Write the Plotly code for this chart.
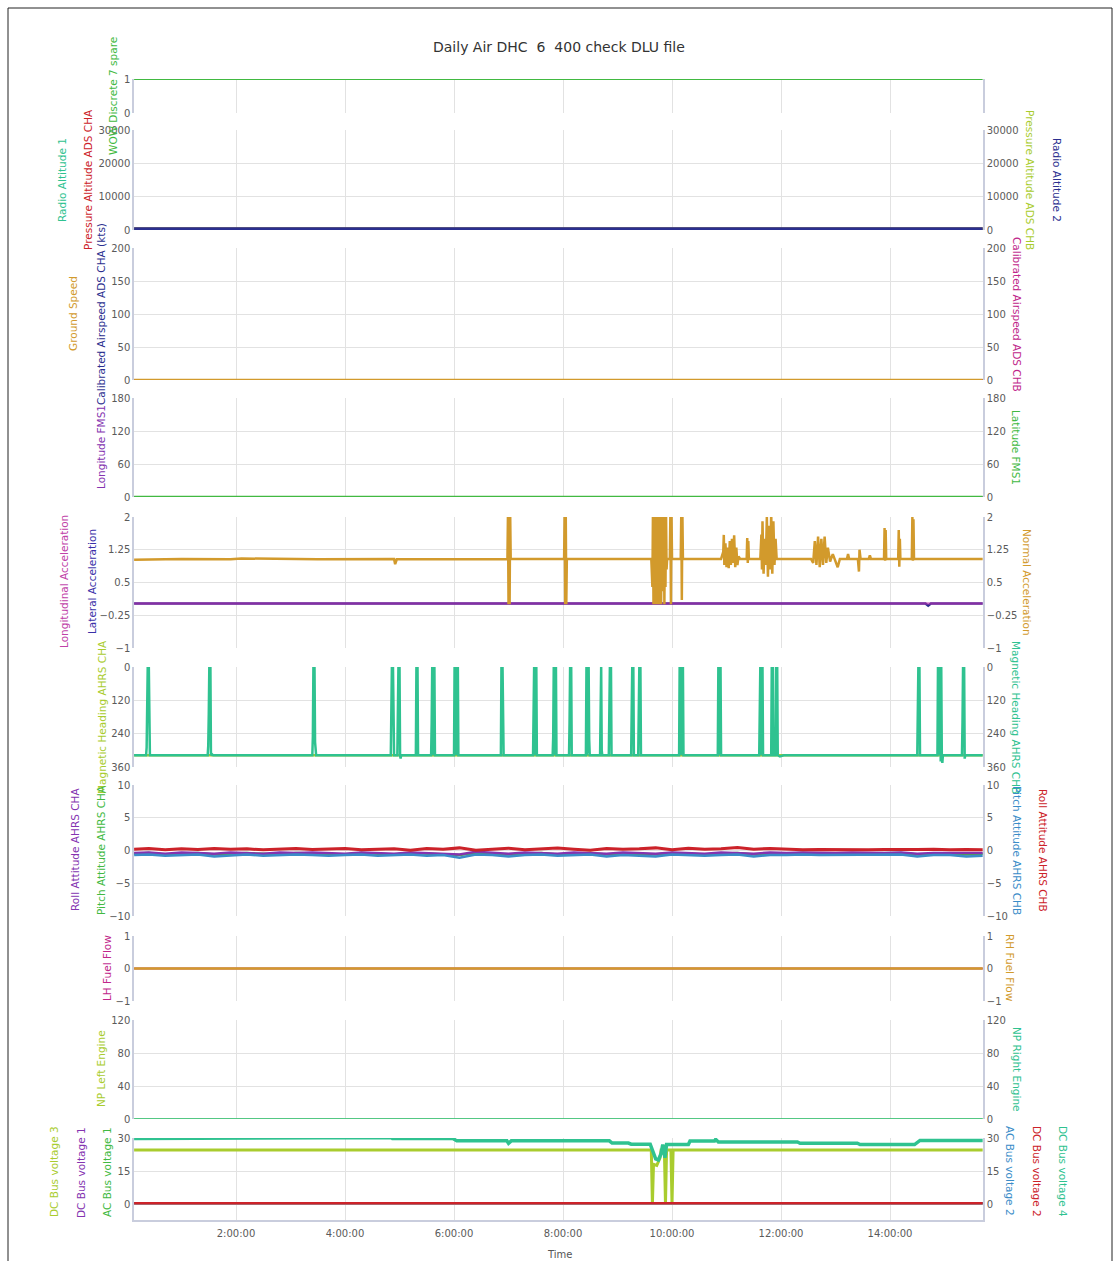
import plotly.graph_objects as go

# ---------------- data (time in hours) ----------------
TIME_SPAN = [0.13, 15.7]
X_TICK_HOURS = [2, 4, 6, 8, 10, 12, 14]
X_TICK_TEXT = ["2:00:00", "4:00:00", "6:00:00", "8:00:00", "10:00:00", "12:00:00", "14:00:00"]

WOW_DISCRETE_7 = [1, 1]

RADIO_ALT_1 = [0, 0]
PRESS_ALT_CHA = [420, 420]
PRESS_ALT_CHB = [420, 420]
RADIO_ALT_2_T = [0.13, 2.5, 2.6, 2.8, 15.7]
RADIO_ALT_2 = [400, 400, 600, 400, 400]

CAS_CHA = [0, 0]
CAS_CHB = [0, 0]
GROUND_SPEED = [0, 0]

LONGITUDE_FMS1 = [0, 0]
LATITUDE_FMS1 = [0, 0]

LONG_ACCEL = [0.02, 0.02]
LAT_ACCEL_T = [0.13, 14.65, 14.7, 14.75, 15.7]
LAT_ACCEL = [0.02, 0.02, -0.03, 0.02, 0.02]

NORMAL_ACCEL = [
    (0.13, 1.02), (1.0, 1.04), (1.9, 1.03), (2.1, 1.05), (3.5, 1.03), (4.9, 1.04), (4.92, 0.92),
    (4.95, 1.03), (5.5, 1.03), (6.5, 1.04),
    (6.98, 1.04), (6.99, 2.1), (7.0, 0.0), (7.01, 2.1), (7.02, 0.0), (7.03, 2.1), (7.04, 1.04),
    (8.02, 1.04), (8.03, 2.1), (8.04, 0.0), (8.05, 2.1), (8.06, 0.0), (8.07, 1.04),
    (9.62, 1.04), (9.64, 0.4), (9.65, 2.1), (9.66, 0.0), (9.67, 2.1), (9.68, 0.0), (9.69, 2.1),
    (9.70, 0.1), (9.71, 2.1), (9.72, 0.0), (9.73, 2.1), (9.74, 0.2), (9.75, 2.1), (9.76, 0.0),
    (9.77, 2.1), (9.78, 0.1), (9.79, 2.1), (9.80, 0.0), (9.81, 2.1), (9.82, 0.3), (9.83, 2.1),
    (9.84, 0.6), (9.85, 2.1), (9.86, 0.0), (9.87, 1.8), (9.88, 0.4), (9.89, 2.1), (9.90, 0.8),
    (9.91, 1.04), (9.96, 1.04), (9.97, 2.1), (9.98, 0.0), (9.99, 2.1), (10.0, 1.04),
    (10.16, 1.04), (10.17, 2.1), (10.18, 0.1), (10.19, 2.1), (10.20, 1.04),
    (10.90, 1.04), (10.94, 1.2), (10.95, 1.59), (10.96, 0.9), (10.98, 1.4), (11.0, 0.85),
    (11.02, 1.3), (11.04, 0.83), (11.06, 1.45), (11.08, 0.9), (11.10, 1.5), (11.12, 0.95),
    (11.14, 1.58), (11.16, 0.85), (11.18, 1.3), (11.20, 0.9), (11.22, 1.1), (11.25, 1.04),
    (11.37, 1.04), (11.38, 1.52), (11.39, 0.95), (11.40, 1.45), (11.41, 1.04),
    (11.62, 1.04), (11.64, 1.6), (11.65, 0.8), (11.66, 1.9), (11.68, 0.7), (11.70, 1.5),
    (11.72, 0.9), (11.74, 2.0), (11.76, 0.63), (11.78, 1.8), (11.80, 0.8), (11.82, 2.1),
    (11.84, 0.7), (11.86, 1.9), (11.88, 0.9), (11.90, 1.5), (11.92, 1.04),
    (12.55, 1.04), (12.59, 0.95), (12.62, 1.45), (12.65, 0.9), (12.68, 1.55), (12.71, 0.85),
    (12.74, 1.5), (12.77, 0.9), (12.80, 1.55), (12.83, 0.95), (12.86, 1.3), (12.90, 0.98),
    (12.95, 1.15), (13.0, 1.0), (13.04, 0.85), (13.08, 1.04),
    (13.21, 1.04), (13.23, 1.15), (13.25, 1.04), (13.41, 1.04), (13.43, 0.75), (13.44, 1.25),
    (13.46, 1.04), (13.61, 1.04), (13.63, 1.12), (13.65, 1.04),
    (13.89, 1.04), (13.90, 1.75), (13.91, 1.0), (13.92, 1.7), (13.93, 1.04),
    (14.15, 1.04), (14.16, 1.7), (14.17, 0.86), (14.18, 1.5), (14.19, 1.04),
    (14.40, 1.04), (14.41, 2.0), (14.42, 1.0), (14.43, 1.95), (14.44, 1.04),
    (15.0, 1.04), (15.7, 1.04),
]

MAG_HEADING_CHA = [318, 318]
MAG_HEADING_CHB = [
    (0.13, 318),
    (0.35, 318), (0.36, 290), (0.37, 175), (0.38, 0), (0.40, 0), (0.41, 180), (0.42, 318),
    (1.48, 318), (1.49, 285), (1.50, 170), (1.51, 0), (1.53, 0), (1.54, 318), (1.56, 314), (1.58, 318),
    (3.40, 318), (3.41, 250), (3.42, 0), (3.44, 0), (3.45, 270), (3.47, 318),
    (4.84, 318), (4.85, 150), (4.86, 0), (4.88, 0), (4.89, 200), (4.90, 318),
    (4.96, 318), (4.97, 210), (4.98, 0), (4.99, 60), (5.00, 0), (5.01, 318), (5.02, 330), (5.03, 318),
    (5.30, 318), (5.31, 0), (5.33, 0), (5.34, 318),
    (5.58, 318), (5.59, 200), (5.60, 0), (5.61, 318), (5.62, 0), (5.63, 300), (5.64, 0), (5.65, 318),
    (6.00, 318), (6.01, 0), (6.02, 310), (6.03, 0), (6.04, 318), (6.05, 0), (6.06, 250), (6.07, 0), (6.08, 318),
    (6.86, 318), (6.87, 0), (6.89, 0), (6.90, 250), (6.91, 318),
    (7.45, 318), (7.46, 200), (7.47, 0), (7.48, 318), (7.49, 0), (7.50, 300), (7.51, 0), (7.52, 318),
    (7.81, 318), (7.82, 250), (7.83, 0), (7.84, 318), (7.85, 0), (7.86, 318), (7.87, 0), (7.88, 318),
    (8.11, 318), (8.12, 200), (8.13, 0), (8.15, 0), (8.16, 318),
    (8.42, 318), (8.43, 0), (8.44, 318), (8.45, 0), (8.46, 310), (8.47, 0), (8.48, 260), (8.49, 318),
    (8.68, 318), (8.69, 100), (8.70, 0), (8.71, 300), (8.72, 318),
    (8.84, 318), (8.85, 150), (8.86, 0), (8.88, 0), (8.89, 318),
    (9.25, 318), (9.26, 200), (9.27, 0), (9.29, 0), (9.30, 318),
    (9.38, 318), (9.39, 180), (9.40, 0), (9.42, 0), (9.43, 318),
    (10.13, 318), (10.14, 0), (10.15, 318), (10.16, 0), (10.17, 300), (10.18, 0), (10.19, 318), (10.20, 0), (10.21, 318),
    (10.84, 318), (10.85, 0), (10.86, 318), (10.87, 0), (10.88, 220), (10.89, 0), (10.90, 318),
    (11.60, 318), (11.61, 200), (11.62, 0), (11.63, 318), (11.64, 0), (11.65, 310), (11.66, 0), (11.67, 318),
    (11.82, 318), (11.83, 0), (11.84, 300), (11.85, 0), (11.86, 318),
    (11.90, 318), (11.91, 0), (11.93, 0), (11.94, 318), (11.98, 322), (12.05, 318),
    (14.50, 318), (14.51, 200), (14.52, 0), (14.54, 0), (14.55, 318),
    (14.87, 318), (14.88, 0), (14.89, 318), (14.90, 0), (14.91, 250), (14.92, 0), (14.93, 340),
    (14.94, 0), (14.95, 318), (14.96, 345), (14.97, 318),
    (15.32, 318), (15.33, 200), (15.34, 0), (15.36, 0), (15.37, 330), (15.38, 318),
    (15.7, 318),
]

ATT_T = [0.13, 0.4, 0.7, 1.0, 1.3, 1.6, 1.9, 2.2, 2.5, 2.8, 3.1, 3.4, 3.7, 4.0, 4.3, 4.6, 4.9, 5.2,
         5.5, 5.8, 6.1, 6.4, 6.7, 7.0, 7.3, 7.6, 7.9, 8.2, 8.5, 8.8, 9.1, 9.4, 9.7, 10.0, 10.3, 10.6,
         10.9, 11.2, 11.5, 11.8, 12.1, 12.4, 12.7, 13.0, 13.3, 13.6, 13.9, 14.2, 14.5, 14.8, 15.1, 15.4, 15.7]
PITCH_CHA = [-0.5, -0.4, -0.6, -0.5, -0.4, -0.6, -0.5, -0.4, -0.5, -0.6, -0.4, -0.5, -0.5, -0.6, -0.4,
             -0.5, -0.6, -0.4, -0.5, -0.5, -0.7, -0.4, -0.5, -0.6, -0.5, -0.4, -0.6, -0.5, -0.4, -0.6,
             -0.5, -0.5, -0.6, -0.4, -0.5, -0.6, -0.5, -0.4, -0.6, -0.5, -0.5, -0.4, -0.5, -0.5, -0.4,
             -0.5, -0.5, -0.4, -0.6, -0.5, -0.5, -0.6, -0.5]
PITCH_CHB = [-0.7, -0.6, -0.8, -0.7, -0.6, -0.9, -0.7, -0.6, -0.8, -0.7, -0.6, -0.7, -0.8, -0.7, -0.6,
             -0.8, -0.7, -0.6, -0.8, -0.7, -1.1, -0.6, -0.7, -0.9, -0.7, -0.6, -0.8, -0.7, -0.6, -0.9,
             -0.7, -0.8, -0.9, -0.6, -0.7, -0.8, -0.7, -0.6, -0.9, -0.7, -0.7, -0.6, -0.7, -0.7, -0.6,
             -0.7, -0.7, -0.6, -0.9, -0.7, -0.7, -0.9, -0.8]
ROLL_CHA = [-0.4, -0.3, -0.5, -0.3, -0.4, -0.5, -0.3, -0.4, -0.5, -0.3, -0.4, -0.3, -0.4, -0.5, -0.3,
            -0.4, -0.5, -0.3, -0.4, -0.4, -0.6, -0.2, -0.4, -0.5, -0.3, -0.4, -0.5, -0.3, -0.4, -0.5,
            -0.3, -0.4, -0.5, -0.3, -0.4, -0.5, -0.3, -0.4, -0.5, -0.3, -0.4, -0.3, -0.4, -0.4, -0.3,
            -0.4, -0.4, -0.3, -0.5, -0.4, -0.4, -0.5, -0.4]
ROLL_CHB = [0.2, 0.3, 0.1, 0.25, 0.15, 0.3, 0.2, 0.25, 0.1, 0.2, 0.3, 0.15, 0.2, 0.3, 0.1, 0.2, 0.25,
            0.05, 0.3, 0.2, 0.4, 0.05, 0.25, 0.35, 0.1, 0.25, 0.4, 0.2, 0.05, 0.3, 0.2, 0.25, 0.4, 0.1,
            0.35, 0.2, 0.25, 0.45, 0.2, 0.3, 0.15, 0.1, 0.15, 0.1, 0.15, 0.1, 0.15, 0.1, 0.15, 0.2, 0.1,
            0.15, 0.1]

LH_FUEL_FLOW = [0, 0]
RH_FUEL_FLOW = [0, 0]

NP_LEFT = [0, 0]
NP_RIGHT = [0, 0]

DC_BUS_1 = [0.3, 0.3]
AC_BUS_1 = [0.3, 0.3]
AC_BUS_2 = [0.3, 0.3]
DC_BUS_2 = [0.3, 0.3]
DC_BUS_3 = [
    (0.13, 24.6), (9.62, 24.6), (9.64, 0.0), (9.66, 18.0), (9.72, 17.5), (9.78, 21.0), (9.80, 24.6),
    (9.86, 24.6), (9.88, 0.0), (9.90, 24.6), (9.98, 24.6), (10.0, 0.0), (10.02, 24.6), (15.7, 24.6),
]
DC_BUS_4 = [
    (0.13, 29.8), (4.28, 29.8), (4.30, 30.2), (4.85, 30.2), (4.87, 29.8), (5.98, 29.8), (6.05, 28.7),
    (6.97, 28.7), (7.0, 27.6), (7.05, 28.7), (8.85, 28.7), (8.90, 27.7), (9.20, 27.7), (9.25, 27.2),
    (9.60, 27.2), (9.65, 24.0), (9.70, 20.5), (9.75, 20.0), (9.80, 23.0), (9.83, 27.0), (9.87, 21.0),
    (9.90, 27.0), (10.30, 27.0), (10.33, 28.6), (10.78, 28.6), (10.80, 29.4), (10.85, 28.2),
    (12.30, 28.2), (12.35, 27.6), (13.40, 27.6), (13.45, 27.0), (14.45, 27.0), (14.55, 28.9), (15.7, 28.9),
]

# ---------------- colours ----------------
C_GREEN = "#41b941"
C_TEAL = "#2fc290"
C_RED = "#cc2229"
C_YGREEN = "#a9cc2e"
C_NAVY = "#2b2f8f"
C_GOLD = "#d29a2c"
C_MAGENTA = "#c0268a"
C_PURPLE = "#8433b0"
C_BLUE = "#3a8cc8"

W, H = 1115, 1261
X_LEFT_PX, X_RIGHT_PX = 134, 983
X_RANGE = [0.128, 15.706]


def px_x(p):
    return p / W


def px_y(p):
    return 1 - p / H


# panel layout: (top px, bottom px, range, tick values, right axis)
PANELS = [
    (79, 113, [0, 1], [0, 1], False),
    (130, 230, [0, 30000], [0, 10000, 20000, 30000], True),
    (248, 380, [0, 200], [0, 50, 100, 150, 200], True),
    (398, 497, [0, 180], [0, 60, 120, 180], True),
    (517, 648, [-1, 2], [-1, -0.25, 0.5, 1.25, 2], True),
    (667, 767, [360, 0], [0, 120, 240, 360], True),
    (785, 916, [-10, 10], [-10, -5, 0, 5, 10], True),
    (936, 1001, [-1, 1], [-1, 0, 1], True),
    (1020, 1119, [0, 120], [0, 40, 80, 120], True),
    (1138, 1220, [-7.27, 30], [0, 15, 30], True),
]

GRID = "#e2e2e2"
AXLINE = "#c9cddd"
TICKFONT = dict(family="DejaVu Sans", size=10, color="#5a5a5a")

fig = go.Figure()


def yname(panel, right):
    if right:
        return "y%d" % (10 + panel)
    return "y" if panel == 1 else "y%d" % panel


def add(x, y, panel, color, width, right=False):
    fig.add_trace(go.Scatter(x=x, y=y, mode="lines", yaxis=yname(panel, right), xaxis="x",
                             line=dict(color=color, width=width), hoverinfo="skip",
                             showlegend=False))


def add_pairs(pairs, panel, color, width, right=False):
    add([p[0] for p in pairs], [p[1] for p in pairs], panel, color, width, right)


# panel 1
add(TIME_SPAN, WOW_DISCRETE_7, 1, C_GREEN, 2)
# panel 2
add(TIME_SPAN, RADIO_ALT_1, 2, C_TEAL, 2)
add(TIME_SPAN, PRESS_ALT_CHA, 2, C_RED, 2)
add(TIME_SPAN, PRESS_ALT_CHB, 2, C_YGREEN, 2, True)
add(RADIO_ALT_2_T, RADIO_ALT_2, 2, C_NAVY, 3, True)
# panel 3
add(TIME_SPAN, CAS_CHA, 3, C_NAVY, 2)
add(TIME_SPAN, CAS_CHB, 3, C_MAGENTA, 2, True)
add(TIME_SPAN, GROUND_SPEED, 3, C_GOLD, 2.5, True)
# panel 4
add(TIME_SPAN, LONGITUDE_FMS1, 4, C_PURPLE, 2)
add(TIME_SPAN, LATITUDE_FMS1, 4, C_GREEN, 2.5, True)
# panel 5
add(LAT_ACCEL_T, LAT_ACCEL, 5, C_NAVY, 2.5)
add(TIME_SPAN, LONG_ACCEL, 5, "rgba(192,48,176,0.6)", 2.5)
add_pairs(NORMAL_ACCEL, 5, C_GOLD, 2.5, True)
# panel 6
add(TIME_SPAN, MAG_HEADING_CHA, 6, C_YGREEN, 2.5)
add_pairs(MAG_HEADING_CHB, 6, C_TEAL, 2.5, True)
# panel 7
add(ATT_T, PITCH_CHA, 7, C_GREEN, 2.5)
add(ATT_T, ROLL_CHA, 7, C_PURPLE, 2.5)
add(ATT_T, PITCH_CHB, 7, C_BLUE, 2.5, True)
add(ATT_T, ROLL_CHB, 7, C_RED, 3, True)
# panel 8
add(TIME_SPAN, LH_FUEL_FLOW, 8, C_MAGENTA, 2)
add(TIME_SPAN, RH_FUEL_FLOW, 8, C_GOLD, 2.5, True)
# panel 9
add(TIME_SPAN, NP_LEFT, 9, C_YGREEN, 1.5)
add(TIME_SPAN, NP_RIGHT, 9, C_TEAL, 1.5, True)
# panel 10
add(TIME_SPAN, DC_BUS_1, 10, C_PURPLE, 2)
add(TIME_SPAN, AC_BUS_1, 10, C_GREEN, 2)
add_pairs(DC_BUS_3, 10, C_YGREEN, 3)
add(TIME_SPAN, AC_BUS_2, 10, C_BLUE, 2, True)
add(TIME_SPAN, DC_BUS_2, 10, C_RED, 2.5, True)
add_pairs(DC_BUS_4, 10, C_TEAL, 3.5, True)

layout = dict(
    width=W, height=H,
    margin=dict(l=0, r=0, t=0, b=0),
    paper_bgcolor="white", plot_bgcolor="white",
    showlegend=False,
    xaxis=dict(domain=[px_x(X_LEFT_PX), px_x(X_RIGHT_PX)], range=X_RANGE, anchor="y10",
               tickvals=X_TICK_HOURS, ticktext=X_TICK_TEXT, tickfont=TICKFONT,
               showgrid=True, gridcolor=GRID, gridwidth=1, zeroline=False,
               showline=True, linecolor=AXLINE, linewidth=2, ticks="", automargin=False,
               ticklabelstandoff=3),
)

for i, (top, bot, rng, tv, right) in enumerate(PANELS, start=1):
    name = "yaxis" if i == 1 else "yaxis%d" % i
    layout[name] = dict(domain=[px_y(bot), px_y(top)], range=rng, anchor="x", side="left",
                        tickvals=tv, tickformat="d" if rng[1] > 1000 else None,
                        tickfont=TICKFONT, showgrid=True, gridcolor=GRID,
                        gridwidth=1, zeroline=False, showline=True, linecolor=AXLINE,
                        linewidth=1.5, ticks="", automargin=False, mirror=(i == 1))
    if right:
        layout["yaxis%d" % (10 + i)] = dict(overlaying=yname(i, False), range=rng, anchor="x",
                                            side="right", tickvals=tv,
                                            tickformat="d" if rng[1] > 1000 else None,
                                            tickfont=TICKFONT,
                                            showgrid=False, zeroline=False, showline=True,
                                            linecolor=AXLINE, linewidth=1.5, ticks="",
                                            automargin=False)

fig.update_layout(**layout)

# axis titles: (text, colour, x px, y px, side)
TITLES = [
    ("WOW Discrete 7 spare", C_GREEN, 113, 96, "l"),
    ("Radio Altitude 1", C_TEAL, 62, 180, "l"),
    ("Pressure Altitude ADS CHA", C_RED, 88, 180, "l"),
    ("Pressure Altitude ADS CHB", C_YGREEN, 1030, 180, "r"),
    ("Radio Altitude 2", C_NAVY, 1057, 180, "r"),
    ("Ground Speed", C_GOLD, 73, 314, "l"),
    ("Calibrated Airspeed ADS CHA (kts)", C_NAVY, 101, 314, "l"),
    ("Calibrated Airspeed ADS CHB", C_MAGENTA, 1017, 314, "r"),
    ("Longitude FMS1", C_PURPLE, 101, 447, "l"),
    ("Latitude FMS1", C_GREEN, 1016, 447, "r"),
    ("Longitudinal Acceleration", "#c040a8", 64, 582, "l"),
    ("Lateral Acceleration", "#3a30a8", 92, 582, "l"),
    ("Normal Acceleration", C_GOLD, 1027, 582, "r"),
    ("Magnetic Heading AHRS CHA", C_YGREEN, 102, 717, "l"),
    ("Magnetic Heading AHRS CHB", C_TEAL, 1016, 717, "r"),
    ("Roll Attitude AHRS CHA", C_PURPLE, 75, 850, "l"),
    ("Pitch Attitude AHRS CHA", C_GREEN, 101, 850, "l"),
    ("Pitch Attitude AHRS CHB", C_BLUE, 1017, 850, "r"),
    ("Roll Attitude AHRS CHB", C_RED, 1043, 850, "r"),
    ("LH Fuel Flow", C_MAGENTA, 107, 968, "l"),
    ("RH Fuel Flow", C_GOLD, 1010, 968, "r"),
    ("NP Left Engine", C_YGREEN, 101, 1069, "l"),
    ("NP Right Engine", C_TEAL, 1017, 1069, "r"),
    ("DC Bus voltage 3", C_YGREEN, 54, 1172, "l"),
    ("DC Bus voltage 1", C_PURPLE, 81, 1172, "l"),
    ("AC Bus voltage 1", C_GREEN, 107, 1172, "l"),
    ("AC Bus voltage 2", C_BLUE, 1010, 1171, "r"),
    ("DC Bus voltage 2", C_RED, 1037, 1171, "r"),
    ("DC Bus voltage 4", C_TEAL, 1063, 1171, "r"),
]

for text, color, x, y, side in TITLES:
    fig.add_annotation(text=text, xref="paper", yref="paper", x=px_x(x), y=px_y(y),
                       xanchor="center", yanchor="middle", showarrow=False,
                       textangle=-90 if side == "l" else 90,
                       font=dict(family="DejaVu Sans", size=10.5, color=color))

fig.add_annotation(text="Daily Air DHC  6  400 check DLU file", xref="paper", yref="paper",
                   x=px_x(559), y=px_y(47), xanchor="center", yanchor="middle", showarrow=False,
                   font=dict(family="DejaVu Sans", size=14, color="#333333"))
fig.add_annotation(text="Time", xref="paper", yref="paper", x=px_x(559), y=px_y(1254),
                   xanchor="center", yanchor="middle", showarrow=False,
                   font=dict(family="DejaVu Sans", size=10, color="#555555"))

fig.add_shape(type="rect", xref="paper", yref="paper", x0=px_x(8), x1=px_x(1112),
              y0=-0.02, y1=px_y(8), line=dict(color="#222222", width=1))

fig.write_html("out.html")
